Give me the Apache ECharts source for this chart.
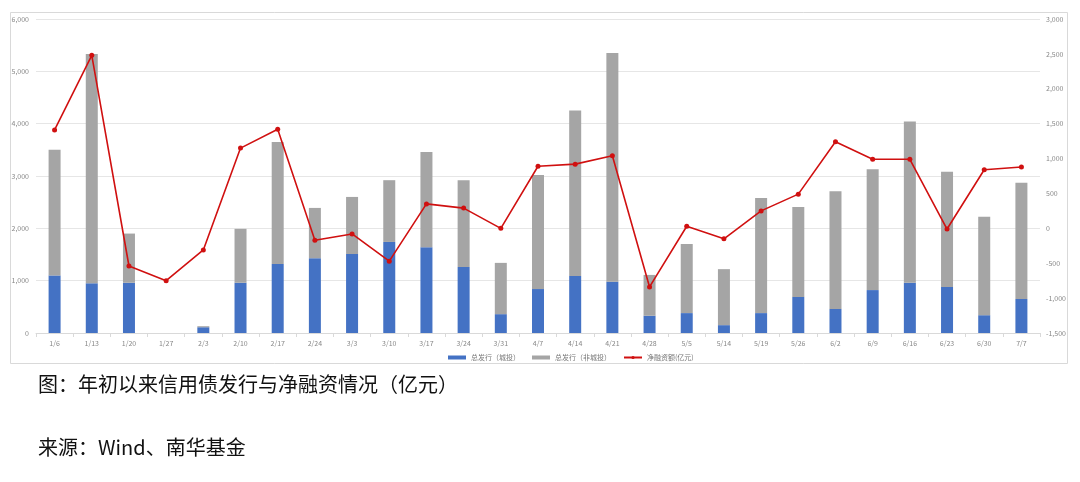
<!DOCTYPE html>
<html>
<head>
<meta charset="utf-8">
<script src="https://cdn.jsdelivr.net/npm/echarts@6/dist/echarts.min.js"></script>
<style>
html,body{margin:0;padding:0;background:#fff;}
#c{width:1080px;height:482px;}
</style>
</head>
<body>
<div id="c"></div>
<script>
const categories = ['1/6','1/13','1/20','1/27','2/3','2/10','2/17','2/24','3/3','3/10','3/17','3/24','3/31','4/7','4/14','4/21','4/28','5/5','5/14','5/19','5/26','6/2','6/9','6/16','6/23','6/30','7/7'];
const blueValues = [1100,950,960,0,110,960,1320,1430,1510,1740,1640,1260,360,840,1090,980,330,380,150,380,690,460,820,960,880,340,650];
const grayValues = [2400,4380,940,0,20,1030,2330,960,1090,1180,1820,1660,980,2180,3160,4370,780,1320,1070,2200,1720,2250,2310,3080,2200,1880,2220];
const netValues = [1410,2480,-540,-750,-310,1150,1420,-170,-80,-470,350,290,0,890,920,1040,-840,30,-150,250,490,1240,990,990,-10,840,880];
const seriesNames = ['总发行（城投）','总发行（非城投）','净融资额(亿元)'];
const captionTitle = '图：年初以来信用债发行与净融资情况（亿元）';
const captionSource = '来源：Wind、南华基金';

const chart = echarts.init(document.getElementById('c'));
const fmt = v => v.toLocaleString('en-US');
chart.setOption({
  animation:false,
  backgroundColor:'#fff',
  textStyle:{fontFamily:'Noto Sans CJK SC'},
  grid:{left:36,right:40,top:19,bottom:149,containLabel:false},
  legend:{
    top:349,left:443,itemGap:12,itemWidth:18,itemHeight:4,
    textStyle:{fontSize:7,color:'#777'},
    data:[{name:seriesNames[0],icon:'rect'},{name:seriesNames[1],icon:'rect'},{name:seriesNames[2]}]
  },
  xAxis:{
    type:'category',data:categories,
    axisLine:{lineStyle:{color:'#d9d9d9'}},
    axisTick:{show:true,lineStyle:{color:'#d9d9d9'},length:4},
    axisLabel:{fontSize:7,color:'#888',margin:7}
  },
  yAxis:[
    {type:'value',min:0,max:6000,interval:1000,
     axisLabel:{fontSize:7,color:'#888',formatter:fmt,margin:7},
     splitLine:{lineStyle:{color:'#e6e6e6'}},axisLine:{show:false},axisTick:{show:false}},
    {type:'value',min:-1500,max:3000,interval:500,
     axisLabel:{fontSize:7,color:'#888',formatter:fmt,margin:6},
     splitLine:{show:false},axisLine:{show:false},axisTick:{show:false}}
  ],
  graphic:[
    {type:'rect',shape:{x:10.5,y:12.5,width:1057,height:351},style:{fill:'none',stroke:'#d9d9d9',lineWidth:1},silent:true},
    {type:'text',left:38,top:374,style:{text:captionTitle,fontSize:20,fill:'#111',fontFamily:'Noto Sans CJK SC'}},
    {type:'text',left:38,top:437,style:{text:captionSource,fontSize:20,fill:'#111',fontFamily:'Noto Sans CJK SC'}}
  ],
  series:[
    {name:seriesNames[0],type:'bar',stack:'s',data:blueValues,barWidth:12,
     itemStyle:{color:'#4472C4'}},
    {name:seriesNames[1],type:'bar',stack:'s',data:grayValues,barWidth:12,
     itemStyle:{color:'#A5A5A5'}},
    {name:seriesNames[2],type:'line',yAxisIndex:1,data:netValues,
     symbol:'circle',symbolSize:5,
     lineStyle:{color:'#D01010',width:1.6},itemStyle:{color:'#D01010'}}
  ]
});
</script>
</body>
</html>
